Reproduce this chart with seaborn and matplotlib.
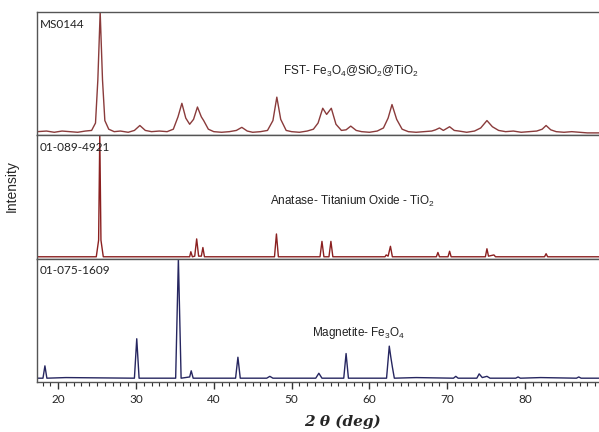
import numpy as np
import pandas as pd
import seaborn as sns
import matplotlib.pyplot as plt
from matplotlib.ticker import MultipleLocator

# FST sample pattern (relative intensity)
fst_2theta = [17.3, 18.5, 19.5, 20.5, 21.5, 22.5, 23.5, 24.3, 24.8, 25.1, 25.4, 25.7, 26.0, 26.5,
              27.2, 28.0, 29.0, 29.8, 30.5, 31.2, 32.0, 33.0, 34.0, 34.8, 35.4, 35.9, 36.4, 36.9,
              37.4, 37.9, 38.4, 38.7, 39.3, 40.0, 41.0, 42.0, 42.9, 43.6, 44.3, 45.0, 46.0, 46.9,
              47.6, 48.1, 48.6, 49.3, 50.0, 51.0, 52.0, 52.8, 53.4, 54.0, 54.5, 55.1, 55.7, 56.4,
              57.0, 57.6, 58.3, 59.0, 60.0, 61.0, 61.8, 62.4, 62.9, 63.5, 64.2, 65.0, 66.0, 67.0,
              68.0, 68.5, 69.0, 69.5, 70.3, 70.9, 71.5, 72.5, 73.5, 74.3, 75.1, 75.8, 76.6, 77.5,
              78.5, 79.5, 80.5, 81.5, 82.2, 82.7, 83.3, 84.0, 85.0, 86.0, 87.0, 88.0, 89.5]
fst_int = [0.03, 0.035, 0.025, 0.035, 0.03, 0.025, 0.035, 0.04, 0.10, 0.45, 1.0, 0.45, 0.12, 0.05,
           0.03, 0.035, 0.025, 0.04, 0.08, 0.04, 0.03, 0.035, 0.03, 0.05, 0.15, 0.26, 0.14, 0.09,
           0.13, 0.23, 0.15, 0.12, 0.05, 0.03, 0.025, 0.03, 0.04, 0.065, 0.035, 0.025, 0.03, 0.04,
           0.12, 0.31, 0.13, 0.04, 0.03, 0.025, 0.035, 0.05, 0.10, 0.22, 0.17, 0.22, 0.09, 0.04,
           0.045, 0.075, 0.04, 0.03, 0.025, 0.035, 0.06, 0.14, 0.25, 0.13, 0.05, 0.03, 0.025, 0.03,
           0.035, 0.045, 0.06, 0.04, 0.07, 0.04, 0.035, 0.025, 0.035, 0.06, 0.12, 0.07, 0.04, 0.03,
           0.035, 0.025, 0.03, 0.035, 0.05, 0.08, 0.045, 0.03, 0.025, 0.03, 0.025, 0.02, 0.02]

# Anatase reference 01-089-4921
ana_2theta = [17.3, 24.9, 25.2, 25.35, 25.5, 25.8, 36.9, 37.05, 37.25, 37.55, 37.8, 38.05, 38.4,
              38.6, 38.8, 47.8, 48.05, 48.3, 53.65, 53.9, 54.15, 54.8, 55.05, 55.3, 62.0, 62.15,
              62.4, 62.7, 62.95, 68.6, 68.8, 69.0, 70.1, 70.3, 70.5, 74.9, 75.1, 75.3, 76.0, 76.2,
              82.5, 82.7, 82.9, 89.5]
ana_int = [0.015, 0.015, 0.15, 1.0, 0.15, 0.015, 0.015, 0.056, 0.015, 0.02, 0.16, 0.02, 0.02,
           0.09, 0.015, 0.015, 0.2, 0.015, 0.015, 0.14, 0.015, 0.015, 0.14, 0.015, 0.015, 0.03,
           0.02, 0.10, 0.015, 0.015, 0.05, 0.015, 0.015, 0.06, 0.015, 0.015, 0.08, 0.02, 0.03, 0.015,
           0.015, 0.04, 0.015, 0.015]

# Magnetite reference 01-075-1609
mag_2theta = [17.3, 18.05, 18.3, 18.55, 21.0, 29.8, 30.1, 30.4, 35.1, 35.45, 35.8, 36.9, 37.1,
              37.35, 42.8, 43.1, 43.4, 46.8, 47.2, 47.6, 53.1, 53.5, 53.9, 56.7, 57.0, 57.3, 62.2,
              62.55, 62.75, 62.95, 63.2, 66.0, 70.8, 71.1, 71.4, 73.8, 74.1, 74.5, 75.1, 75.5,
              78.8, 79.1, 79.4, 82.0, 86.6, 86.9, 87.2, 89.5]
mag_int = [0.03, 0.03, 0.13, 0.03, 0.035, 0.03, 0.35, 0.03, 0.03, 1.0, 0.03, 0.04, 0.09,
           0.03, 0.03, 0.2, 0.03, 0.03, 0.045, 0.03, 0.03, 0.07, 0.03, 0.03, 0.23, 0.03, 0.03,
           0.29, 0.2, 0.12, 0.03, 0.035, 0.03, 0.045, 0.03, 0.03, 0.065, 0.035, 0.045, 0.03,
           0.03, 0.04, 0.03, 0.035, 0.03, 0.04, 0.03, 0.03]

panels = [
    ("MS0144", r"FST- Fe$_3$O$_4$@SiO$_2$@TiO$_2$", fst_2theta, fst_int, "#8a3b3b", (48.85, 0.52)),
    ("01-089-4921", r"Anatase- Titanium Oxide - TiO$_2$", ana_2theta, ana_int, "#8b2020", (47.2, 0.46)),
    ("01-075-1609", r"Magnetite- Fe$_3$O$_4$", mag_2theta, mag_int, "#262660", (52.6, 0.40)),
]

sns.set_theme(style="white")
plt.rcParams['font.family'] = ['Liberation Sans', 'DejaVu Sans']
plt.rcParams['mathtext.default'] = 'regular'

fig, axes = plt.subplots(3, 1, figsize=(5.99, 4.32), dpi=100, sharex=True)
fig.subplots_adjust(left=0.062, right=1.0, top=0.972, bottom=0.116, hspace=0)

for ax, (code, name, xs, ys, col, pos) in zip(axes, panels):
    df = pd.DataFrame({"two_theta": xs, "intensity": ys})
    sns.lineplot(data=df, x="two_theta", y="intensity", ax=ax, color=col,
                 linewidth=1.0, sort=False, estimator=None)
    ax.set_xlim(17.3, 89.5)
    ax.set_ylim(0, 1.0)
    ax.set_yticks([])
    ax.set_xlabel("")
    ax.set_ylabel("")
    for s in ["top", "left", "bottom"]:
        ax.spines[s].set_color("#555555")
        ax.spines[s].set_linewidth(1.0)
    ax.spines["right"].set_visible(False)
    ax.text(0.004, 0.9, code, transform=ax.transAxes, va="center", ha="left",
            fontsize=8.5, family=["Lato", "DejaVu Sans"], color="#222222")
    ax.text(pos[0], pos[1], name, transform=ax.get_xaxis_transform(), va="center",
            ha="left", fontsize=8.5, color="#222222")

bx = axes[-1]
bx.xaxis.set_major_locator(MultipleLocator(10))
bx.xaxis.set_minor_locator(MultipleLocator(1))
bx.tick_params(axis="x", which="major", direction="out", length=5, width=1,
               color="#333333", labelsize=8.5, bottom=True)
bx.tick_params(axis="x", which="minor", direction="out", length=3, width=0.8,
               color="#333333", bottom=True)
for lab in bx.get_xticklabels():
    lab.set_family(["Lato", "DejaVu Sans"])
for ax in axes[:-1]:
    ax.tick_params(axis="x", which="both", bottom=False, labelbottom=False)

fig.text(342 / 599, 1 - 422 / 432, "2 θ (deg)", ha="center", va="center",
         fontsize=11, family="DejaVu Serif", fontweight="bold", fontstyle="italic")
fig.text(12 / 599, 1 - 186 / 432, "Intensity", rotation=90, ha="center", va="center",
         fontsize=10)

fig.savefig("out.png", dpi=100)
